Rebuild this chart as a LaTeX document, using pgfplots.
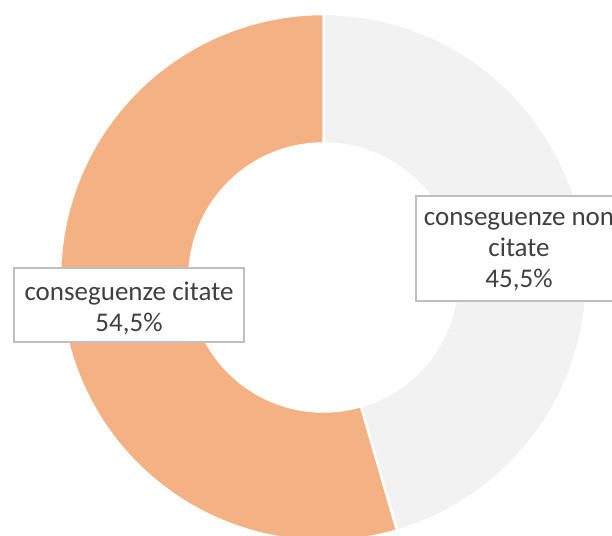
\documentclass[border=0pt]{standalone}
\usepackage{pgfplots}
\pgfplotsset{compat=1.18}
\usepackage{pgfplotstable}
\usepackage{fontspec}
\setmainfont{Carlito}

\definecolor{citate}{HTML}{F4B183}
\definecolor{noncitate}{HTML}{F2F2F2}
\definecolor{labeltext}{HTML}{404040}
\definecolor{labelframe}{HTML}{BFBFBF}

% shares in percent, clockwise from 12 o'clock
\pgfplotstableread{
share
45.5
54.5
}\donutdata
\pgfplotstablegetelem{0}{share}\of\donutdata \let\shareA\pgfplotsretval
\pgfplotstablegetelem{1}{share}\of\donutdata \let\shareB\pgfplotsretval
\pgfmathsetmacro{\angA}{90-3.6*\shareA}
\pgfmathsetmacro{\angB}{\angA-3.6*\shareB}

% centre and radii in pixel units of the axis
\def\cx{323.5}\def\cy{258.5}
\def\ro{263.5}\def\ri{134}

% one ring segment from angle #1 to #2 (clockwise), fill #3
\newcommand\donutslice[3]{%
  \fill[#3, draw=white, line width=1.25pt]
    (axis cs:{\cx+\ro*cos(#1)},{\cy+\ro*sin(#1)})
    arc[start angle=#1, end angle=#2, radius=0.5*\ro pt]
    -- (axis cs:{\cx+\ri*cos(#2)},{\cy+\ri*sin(#2)})
    arc[start angle=#2, end angle=#1, radius=0.5*\ri pt] -- cycle;}

\tikzset{
  labelbox/.style={draw=labelframe, line width=0.75pt, fill=white, inner sep=0pt},
  labeltxt/.style={text=labeltext, align=center, inner sep=0pt,
                   font=\fontsize{13.5}{15.5}\selectfont}}

\begin{document}
\begin{tikzpicture}
\useasboundingbox (0,0) rectangle (306pt,268pt);
\clip (0,0) rectangle (306pt,268pt);
\begin{axis}[
  at={(0,0)}, anchor=south west,
  width=306pt, height=268pt, scale only axis,
  xmin=0, xmax=612, ymin=0, ymax=536,
  hide axis, clip=false]
  \donutslice{90}{\angA}{noncitate}
  \donutslice{\angA}{\angB}{citate}
  \node[labelbox, minimum width=115pt, minimum height=37pt] at (axis cs:129,231) {};
  \node[labeltxt] at (axis cs:129,228) {conseguenze citate\\54,5\%};
  \node[labelbox, minimum width=103pt, minimum height=52.5pt] at (axis cs:519,287.5) {};
  \node[labeltxt] at (axis cs:519,284) {conseguenze non\\citate\\45,5\%};
\end{axis}
\end{tikzpicture}
\end{document}
